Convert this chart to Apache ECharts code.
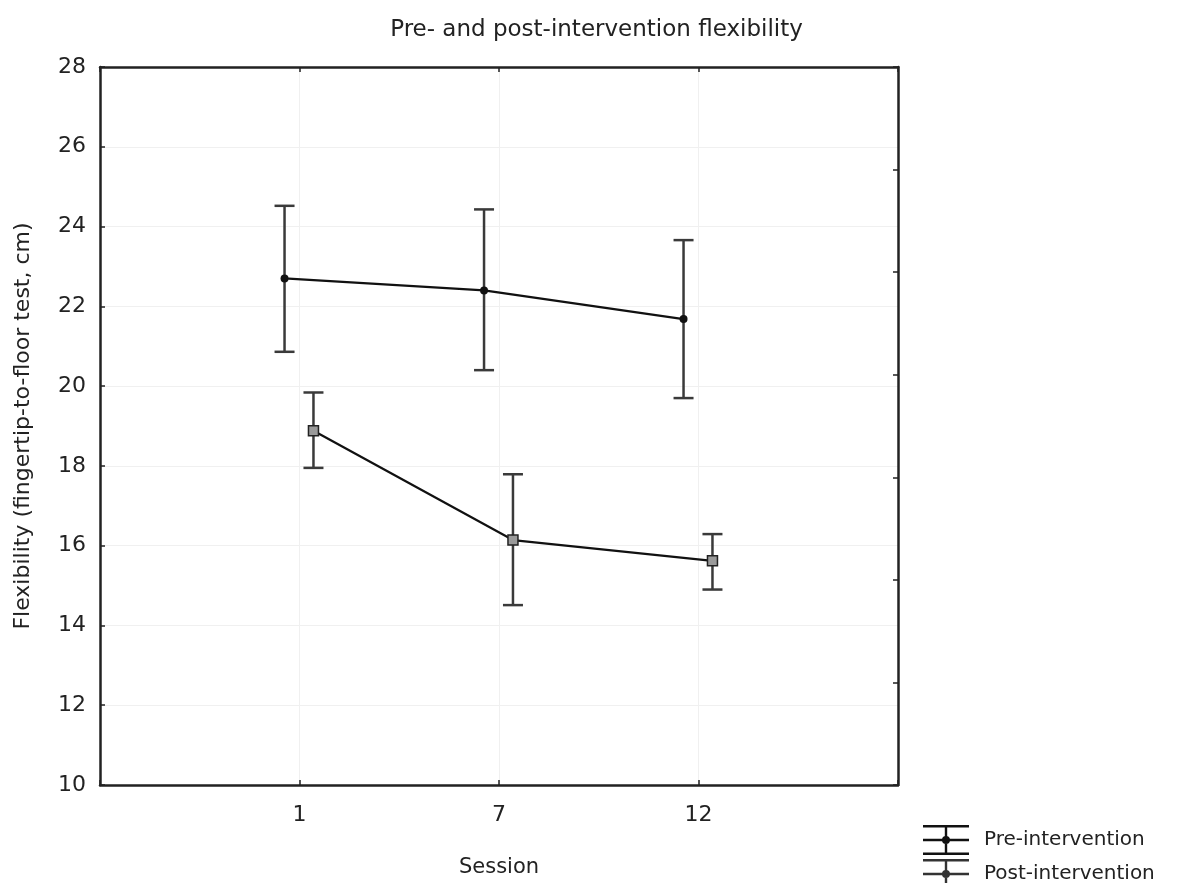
<!DOCTYPE html>
<html>
<head>
<meta charset="utf-8">
<script src="https://cdn.jsdelivr.net/npm/echarts@6/dist/echarts.min.js"></script>
<style>html,body{margin:0;padding:0;background:#fff}#c{width:1193px;height:883px}</style>
</head>
<body>
<div id="c"></div>
<script>
var sessions = ['1', '7', '12'];
var preMean = [22.7, 22.4, 21.68];
var preUpper = [24.52, 24.43, 23.66];
var preLower = [20.86, 20.4, 19.7];
var postMean = [18.88, 16.14, 15.62];
var postUpper = [19.84, 17.79, 16.29];
var postLower = [17.95, 14.51, 14.9];
var yTicks = [10, 28, 2];

var PRE_OFF = -0.075, POST_OFF = 0.07;
function pts(mean, off) { return mean.map(function (v, i) { return [i + 1 + off, v]; }); }
function errs(lo, hi, off) { return lo.map(function (v, i) { return [i + 1 + off, v, hi[i]]; }); }

function errRender(params, api) {
  var x = api.value(0);
  var p1 = api.coord([x, api.value(1)]);
  var p2 = api.coord([x, api.value(2)]);
  var hw = 10;
  var st = { stroke: '#3a3a3a', lineWidth: 2.5 };
  return { type: 'group', children: [
    { type: 'line', shape: { x1: p1[0], y1: p1[1], x2: p2[0], y2: p2[1] }, style: st },
    { type: 'line', shape: { x1: p1[0] - hw, y1: p1[1], x2: p1[0] + hw, y2: p1[1] }, style: st },
    { type: 'line', shape: { x1: p2[0] - hw, y1: p2[1], x2: p2[0] + hw, y2: p2[1] }, style: st }
  ]};
}

var legendIcon = 'path://M0,0H46V2.4H0Z M0,13.8H46V16.2H0Z M0,27.6H46V30H0Z M21.8,0H24.2V30H21.8Z M23,11A4,4 0 1 1 22.99,11Z';

var font = 'DejaVu Sans';
var txt = '#222';
function legendOf(name, color, top) {
  return { orient: 'vertical', left: 923, top: top, padding: 0, itemWidth: 46, itemHeight: 30,
    icon: legendIcon, selectedMode: false,
    textStyle: { fontFamily: font, fontSize: 20, color: txt, padding: [0, 0, 0, 10] },
    data: [{ name: name, itemStyle: { color: color } }] };
}
var axisLineStyle = { onZero: false, lineStyle: { color: '#222', width: 2.5 } };
var tickStyle = { show: true, inside: true, length: 5, lineStyle: { color: '#222', width: 1.5 } };

var chart = echarts.init(document.getElementById('c'));
chart.setOption({
  animation: false,
  textStyle: { fontFamily: font },
  title: { text: 'Pre- and post-intervention flexibility', left: 'center', top: 14,
    textStyle: { fontFamily: font, fontSize: 23, fontWeight: 'normal', color: txt } },
  legend: [
    legendOf('Pre-intervention', '#111', 825),
    legendOf('Post-intervention', '#333', 859)
  ],
  grid: { left: 100, top: 67, right: 295, bottom: 98 },
  xAxis: [
    { type: 'value', min: 0, max: 4, interval: 1, position: 'bottom',
      name: 'Session', nameLocation: 'middle', nameGap: 72,
      nameTextStyle: { fontFamily: font, fontSize: 21, color: txt },
      axisLine: axisLineStyle, axisTick: tickStyle,
      axisLabel: { fontSize: 22, color: txt, margin: 19, fontFamily: font,
        formatter: function (v) { return sessions[v - 1] || ''; } },
      splitLine: { show: true, lineStyle: { color: '#f0f0f0', width: 1 } } },
    { type: 'value', min: 0, max: 4, interval: 1, position: 'top',
      axisLine: axisLineStyle, axisTick: tickStyle,
      axisLabel: { show: false }, splitLine: { show: false } }
  ],
  yAxis: [
    { type: 'value', min: yTicks[0], max: yTicks[1], interval: yTicks[2], position: 'left',
      name: 'Flexibility (fingertip-to-floor test, cm)', nameLocation: 'middle', nameGap: 66,
      nameTextStyle: { fontFamily: font, fontSize: 22, color: txt },
      axisLine: Object.assign({ show: true }, axisLineStyle), axisTick: tickStyle,
      axisLabel: { fontSize: 22, color: txt, margin: 14, fontFamily: font },
      splitLine: { show: true, lineStyle: { color: '#f0f0f0', width: 1 } } },
    { type: 'value', min: 0, max: 7, interval: 1, position: 'right',
      axisLine: Object.assign({ show: true }, axisLineStyle), axisTick: tickStyle,
      axisLabel: { show: false }, splitLine: { show: false } }
  ],
  series: [
    { type: 'custom', name: 'Pre-intervention', renderItem: errRender, data: errs(preLower, preUpper, PRE_OFF),
      xAxisIndex: 0, yAxisIndex: 0, z: 2, silent: true, itemStyle: { color: '#111' } },
    { type: 'custom', name: 'Post-intervention', renderItem: errRender, data: errs(postLower, postUpper, POST_OFF),
      xAxisIndex: 0, yAxisIndex: 0, z: 2, silent: true, itemStyle: { color: '#333' } },
    { type: 'line', name: 'Pre-intervention', data: pts(preMean, PRE_OFF), xAxisIndex: 0, yAxisIndex: 0,
      symbol: 'circle', symbolSize: 8, z: 3,
      lineStyle: { color: '#111', width: 2.2 }, itemStyle: { color: '#111' } },
    { type: 'line', name: 'Post-intervention', data: pts(postMean, POST_OFF), xAxisIndex: 0, yAxisIndex: 0,
      symbol: 'rect', symbolSize: 10, z: 3,
      lineStyle: { color: '#111', width: 2.2 }, itemStyle: { color: '#9a9a9a', borderColor: '#222', borderWidth: 1.5 } }
  ]
});
</script>
</body>
</html>
